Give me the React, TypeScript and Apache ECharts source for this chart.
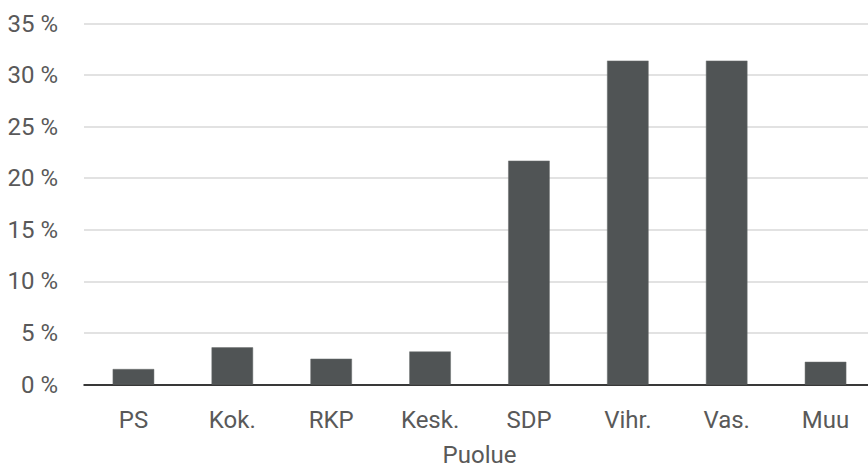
import React, { useEffect, useRef } from "react";
import * as echarts from "echarts";

const categories = ["PS", "Kok.", "RKP", "Kesk.", "SDP", "Vihr.", "Vas.", "Muu"];
const shares = [1.5, 3.6, 2.5, 3.2, 21.7, 31.4, 31.4, 2.2];
const yTicks = [0, 5, 10, 15, 20, 25, 30, 35];
const axisTitle = "Puolue";

export default function App() {
  const ref = useRef<HTMLDivElement>(null);
  useEffect(() => {
    const chart = echarts.init(ref.current!, null, { renderer: "svg" });
    const font = "Roboto, 'Open Sans', sans-serif";
    chart.setOption({
      animation: false,
      backgroundColor: "#ffffff",
      grid: {
        left: 84,
        top: 23.5,
        right: 9,
        height: 361,
        containLabel: false,
        outerBoundsMode: "none",
      },
      xAxis: {
        type: "category",
        data: categories,
        name: axisTitle,
        nameLocation: "middle",
        nameGap: 58,
        nameTextStyle: { color: "#595959", fontSize: 24, lineHeight: 24, fontFamily: font },
        axisLine: { show: true, lineStyle: { color: "#000000", width: 1.5 } },
        axisTick: { show: false },
        axisLabel: { color: "#595959", fontSize: 24, fontFamily: font, margin: 23, interval: 0 },
      },
      yAxis: {
        type: "value",
        min: yTicks[0],
        max: yTicks[yTicks.length - 1],
        interval: 5,
        axisLine: { show: false },
        axisTick: { show: false },
        splitLine: { lineStyle: { color: "#d9d9d9", width: 1.5 } },
        axisLabel: {
          color: "#595959",
          fontSize: 24,
          fontFamily: font,
          margin: 26,
          formatter: (v: number) => `${v} %`,
        },
      },
      series: [
        {
          type: "bar",
          data: shares,
          barWidth: "42%",
          itemStyle: { color: "#505455", borderColor: "#6a6e6f", borderWidth: 0.5 },
        },
      ],
    });
    return () => chart.dispose();
  }, []);
  return (
    <div style={{ position: "fixed", left: 0, top: 0, width: 868, height: 469, overflow: "hidden" }}>
      <div ref={ref} style={{ width: 884, height: 469 }} />
    </div>
  );
}
